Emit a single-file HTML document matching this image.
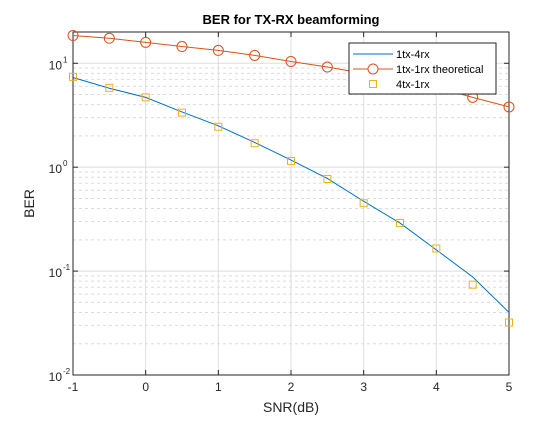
<!DOCTYPE html>
<html><head><meta charset="utf-8"><style>
body{margin:0;background:#fff;}
svg text{font-family:"Liberation Sans",Arial,sans-serif;}
</style></head><body>
<svg id="chart" width="560" height="420" viewBox="0 0 560 420">
<rect x="0" y="0" width="560" height="420" fill="#fff"/>
<g id="grid"></g><g id="axes"></g><g id="series"></g><g id="legend"></g>
</svg>
<script>
const snr=[-1,-0.5,0,0.5,1,1.5,2,2.5,3,3.5,4,4.5,5];
const ber4rx=[7.3,5.75,4.7,3.4,2.5,1.73,1.17,0.78,0.47,0.29,0.16,0.088,0.040];
const berTheory=[18.5,17.4,15.9,14.5,13.3,11.9,10.4,9.2,8.0,7.0,5.9,4.7,3.8];
const ber4tx=[7.4,5.8,4.7,3.35,2.45,1.7,1.15,0.77,0.45,0.29,0.165,0.074,0.032];
const xTicks=[-1,0,1,2,3,4,5];
const yTicks=[0.01,0.1,1,10];
const yTickLabels=["10","10","10","10"];
const yTickExp=["-2","-1","0","1"];

const L=73,R=509,T=32,B=375,xMin=-1,xMax=5,yMinL=-2,yMaxL=Math.log10(20);
const X=v=>L+(v-xMin)/(xMax-xMin)*(R-L);
const Y=v=>B-(Math.log10(v)-yMinL)/(yMaxL-yMinL)*(B-T);
const NS="http://www.w3.org/2000/svg";
function mk(tag,attrs,parent){const e=document.createElementNS(NS,tag);for(const k in attrs)e.setAttribute(k,attrs[k]);parent.appendChild(e);return e;}
const grid=document.getElementById('grid'),axes=document.getElementById('axes'),series=document.getElementById('series'),legend=document.getElementById('legend');

mk('rect',{x:L,y:T,width:R-L,height:B-T,fill:'#fff'},grid);
for(let d=-2;d<=1;d++){for(let m=2;m<=9;m++){const v=m*Math.pow(10,d);if(v>20)continue;const y=Y(v);
 const g=mk('line',{x1:L,x2:R,y1:y,y2:y,stroke:'#dcdcdc','stroke-width':1,'stroke-dasharray':'3,3'},grid);
 
 }}
yTicks.forEach((v,i)=>{const y=Y(v);
 const g=mk('line',{x1:L,x2:R,y1:y,y2:y,stroke:'#dedede','stroke-width':1},grid);
 
 
 mk('line',{x1:L,x2:L+5,y1:y,y2:y,stroke:'#262626'},axes);
 mk('line',{x1:R,x2:R-5,y1:y,y2:y,stroke:'#262626'},axes);
 const t=mk('text',{x:L-11,y:y+6,'font-size':12,'text-anchor':'end',fill:'#262626'},axes);
 t.textContent=yTickLabels[i];
 
 
 const e=mk('text',{x:L-10,y:y-1,'font-size':8,fill:'#262626'},axes);
 e.textContent=yTickExp[i];
 
 
});
xTicks.forEach(v=>{const x=X(v);
 const g=mk('line',{x1:x,x2:x,y1:T,y2:B,stroke:'#dedede'},grid);
 
 
 mk('line',{x1:x,x2:x,y1:B,y2:B-5,stroke:'#262626'},axes);
 mk('line',{x1:x,x2:x,y1:T,y2:T+5,stroke:'#262626'},axes);
 const t=mk('text',{x:x,y:B+16,'font-size':12,'text-anchor':'middle',fill:'#262626'},axes);
 t.textContent=String(v);
 
 
});
const box=mk('rect',{x:L,y:T,width:R-L,height:B-T,fill:'none',stroke:'#262626'},axes);


let t=mk('text',{x:(L+R)/2,y:24,'font-size':13,'font-weight':'bold','text-anchor':'middle',fill:'#000'},axes);
t.textContent='BER for TX-RX beamforming';


t=mk('text',{x:(L+R)/2,y:412,'font-size':14,'text-anchor':'middle',fill:'#262626'},axes);
t.textContent='SNR(dB)';


t=mk('text',{x:0,y:0,'font-size':14,'text-anchor':'middle',fill:'#262626',transform:`translate(34,${(T+B)/2}) rotate(-90)`},axes);
t.textContent='BER';



const blue='#0072bd',orange='#d95319',yellow='#edb120';
let p=mk('polyline',{points:snr.map((s,i)=>X(s)+','+Y(ber4rx[i])).join(' '),fill:'none',stroke:blue,'stroke-width':1},series);


p=mk('polyline',{points:snr.map((s,i)=>X(s)+','+Y(berTheory[i])).join(' '),fill:'none',stroke:orange,'stroke-width':1},series);


snr.forEach((s,i)=>{
 const c=mk('circle',{cx:X(s),cy:Y(berTheory[i]),r:5,fill:'none',stroke:orange},series);
 
 
 const q=mk('rect',{x:X(s)-3.5,y:Y(ber4tx[i])-3.5,width:7,height:7,fill:'none',stroke:yellow},series);
 
 
});
const lb=mk('rect',{x:349,y:43,width:147,height:51,fill:'#fff',stroke:'#262626'},legend);


const ents=[['1tx-4rx','line'],['1tx-1rx theoretical','circle'],['4tx-1rx','square']];
ents.forEach((en,i)=>{const y=54+i*15;
 if(en[1]!=='square')mk('line',{x1:353,x2:393,y1:y,y2:y,stroke:i===0?blue:orange},legend);
 if(en[1]==='circle')mk('circle',{cx:373,cy:y,r:5,fill:'#fff',stroke:orange},legend);
 if(en[1]==='square')mk('rect',{x:369.5,y:y-3.5,width:7,height:7,fill:'none',stroke:yellow},legend);
 const tx=mk('text',{x:396,y:y+4,'font-size':11,fill:'#000'},legend);
 tx.textContent=en[0];
 
 
});
</script>
</body></html>
